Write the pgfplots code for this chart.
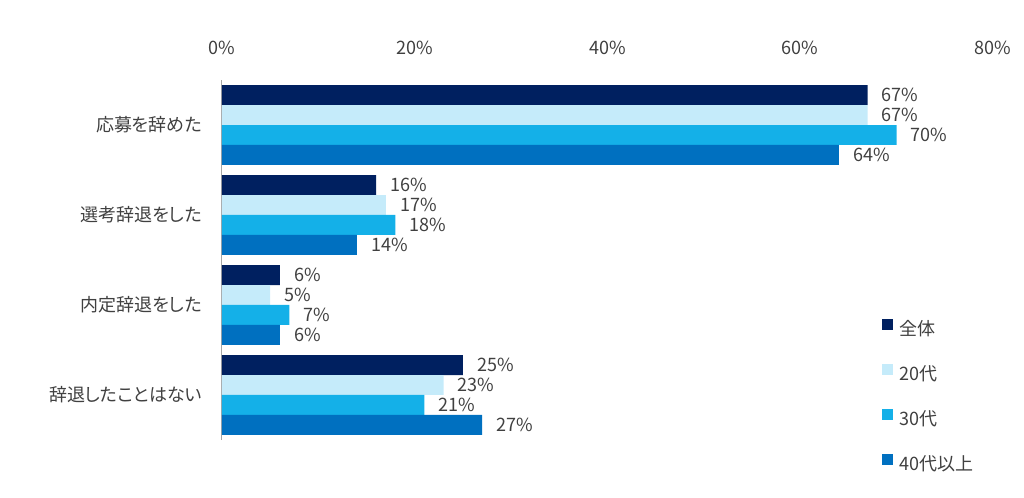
\documentclass[border=0pt]{standalone}
\usepackage{fontspec}
\setmainfont{Noto Sans CJK JP}[Script=CJK, Language=Japanese, RawFeature={+palt;+kern}]
\usepackage{pgfplots}
\pgfplotsset{compat=1.18}
\definecolor{cA}{RGB}{0,32,96}
\definecolor{cB}{RGB}{197,235,250}
\definecolor{cC}{RGB}{20,176,232}
\definecolor{cD}{RGB}{0,112,192}
\definecolor{txt}{RGB}{64,64,64}
\definecolor{axgray}{RGB}{166,166,166}
\newcommand\lbl{\fontsize{13.5pt}{16pt}\selectfont}
\begin{document}
\begin{tikzpicture}
\path[use as bounding box] (-166.5pt,-43.5pt) rectangle (601.5pt,330pt);
\begin{axis}[
  at={(0pt,0pt)}, anchor=south west,
  scale only axis,
  width=578.25pt, height=270pt,
  xbar, bar width=0.2222,
  xmin=0, xmax=80,
  ymin=-0.5, ymax=3.5, y dir=reverse,
  xtick={0,20,40,60,80},
  xticklabels={0\%,20\%,40\%,60\%,80\%},
  xticklabel pos=upper,
  ytick={0,1,2,3},
  yticklabels={応募を辞めた,選考辞退をした,内定辞退をした,辞退したことはない},
  major tick length=0pt,
  axis x line*=top,
  axis y line*=left,
  x axis line style={draw=none},
  y axis line style={draw=axgray, line width=0.75pt},
  every tick label/.append style={font=\lbl, text=txt},
  xticklabel style={inner sep=0pt, anchor=base, yshift=19.5pt},
  yticklabel style={inner sep=0pt, anchor=east, xshift=-15pt},
  /pgf/number format/assume math mode=true,
  point meta=x,
  nodes near coords={\pgfmathprintnumber{\pgfplotspointmeta}\%},
  every node near coord/.append style={font=\lbl, text=txt, inner sep=0pt, anchor=west, xshift=10.5pt},
  legend style={draw=none, fill=none, at={(0.856,0.336)}, anchor=north west,
    inner sep=0pt, outer sep=0pt, font=\lbl, text=txt, row sep=18.5pt, column sep=5pt,
    nodes={inner sep=0pt, text height=10.5pt, text depth=3pt, anchor=west}},
  legend cell align=left,
  legend image code/.code={\fill[#1] (0pt,0pt) rectangle (8.25pt,8.5pt);},
]
\addplot[fill=cA, draw=none, bar shift=-0.3333] coordinates {(67,0) (16,1) (6,2) (25,3)};
\addplot[fill=cB, draw=none, bar shift=-0.1111] coordinates {(67,0) (17,1) (5,2) (23,3)};
\addplot[fill=cC, draw=none, bar shift=0.1111] coordinates {(70,0) (18,1) (7,2) (21,3)};
\addplot[fill=cD, draw=none, bar shift=0.3333] coordinates {(64,0) (14,1) (6,2) (27,3)};
\legend{全体,20代,30代,40代以上}
\end{axis}
\end{tikzpicture}
\end{document}
